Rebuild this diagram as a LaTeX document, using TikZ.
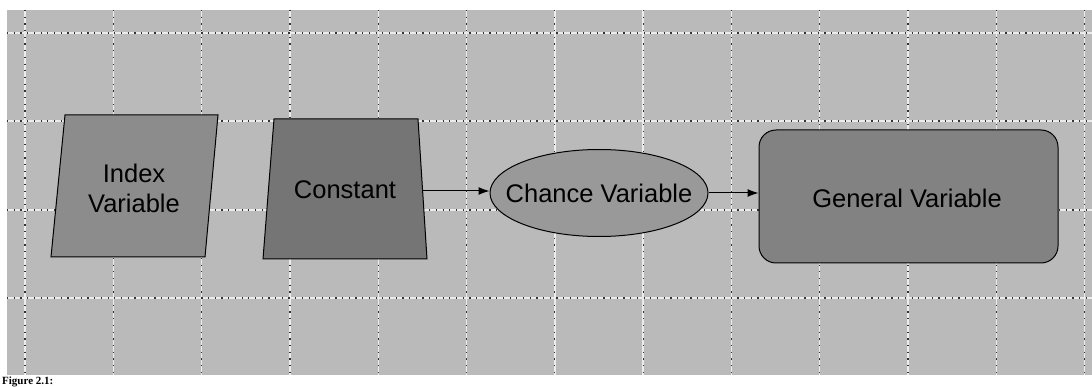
\documentclass[tikz,border=0pt]{standalone}
\usepackage{fontspec}
\setmainfont{Liberation Sans}
\newfontfamily\capfont{Liberation Serif}
\usetikzlibrary{arrows.meta,shapes.geometric}
\definecolor{bgray}{gray}{0.73}
\definecolor{idxgray}{gray}{0.55}
\definecolor{constgray}{gray}{0.46}
\definecolor{chgray}{gray}{0.60}
\definecolor{gengray}{gray}{0.51}
\tikzset{
  shapeline/.style={draw=black, line width=1pt},
  lbl/.style={font=\fontsize{25.5}{30}\selectfont, text=black, align=center, inner sep=0pt},
  gridlight/.style={draw=white!85!gray, line width=1.4pt},
  griddark/.style={draw=black!80, line width=1.2pt, dash pattern=on 1.2pt off 5.5pt},
  conn/.style={draw=black, line width=1pt, -{Latex[length=11pt,width=8pt]}}
}
\begin{document}
\begin{tikzpicture}[x=1pt,y=-1pt]
\useasboundingbox (0,0) rectangle (1092,387);
\clip (0,0) rectangle (1092,387);
\fill[white] (0,0) rectangle (1092,387);
% gray canvas
\fill[bgray] (7,10) rectangle (1092,375);
% grid
\foreach \k in {0,...,12} {
  \pgfmathsetmacro{\gx}{25+88.3*\k}
  \draw[gridlight] (\gx,10) -- (\gx,375);
  \draw[griddark] (\gx,10) -- (\gx,375);
}
\foreach \yy in {33,121,210,298} {
  \draw[gridlight] (7,\yy) -- (1092,\yy);
  \draw[griddark] (7,\yy) -- (1092,\yy);
}
% Index Variable (parallelogram)
\draw[shapeline, fill=idxgray] (65,115) -- (218,115) -- (205,257) -- (51,257) -- cycle;
\node[lbl] (index) at (134,188) {Index\\Variable};
% Constant (trapezoid)
\draw[shapeline, fill=constgray] (274,119) -- (418,119) -- (427,259) -- (263,259) -- cycle;
\node[lbl] (const) at (345,190) {Constant};
\coordinate (constE) at (423,191);
% Chance Variable (ellipse)
\node[ellipse, shapeline, fill=chgray, minimum width=218pt, minimum height=87pt, inner sep=0pt] (chance) at (599,193) {};
\node[lbl] (chancetext) at (599,193) {Chance Variable};
% General Variable (rounded rectangle)
\node[rectangle, rounded corners=17pt, shapeline, fill=gengray, minimum width=299pt, minimum height=133pt, inner sep=0pt] (general) at (908.5,196.5) {};
\node[lbl] (gentext) at (907,198) {General Variable};
% connectors
\draw[conn] (constE) -- (constE -| chance.west);
\draw[conn] (chance.east) -- (chance.east -| general.west);
% caption strip below the canvas
\node[anchor=base west, inner sep=0pt, font=\capfont\bfseries\fontsize{11}{12}\selectfont] (caption) at (2,384) {Figure 2.1:};
\end{tikzpicture}
\end{document}
